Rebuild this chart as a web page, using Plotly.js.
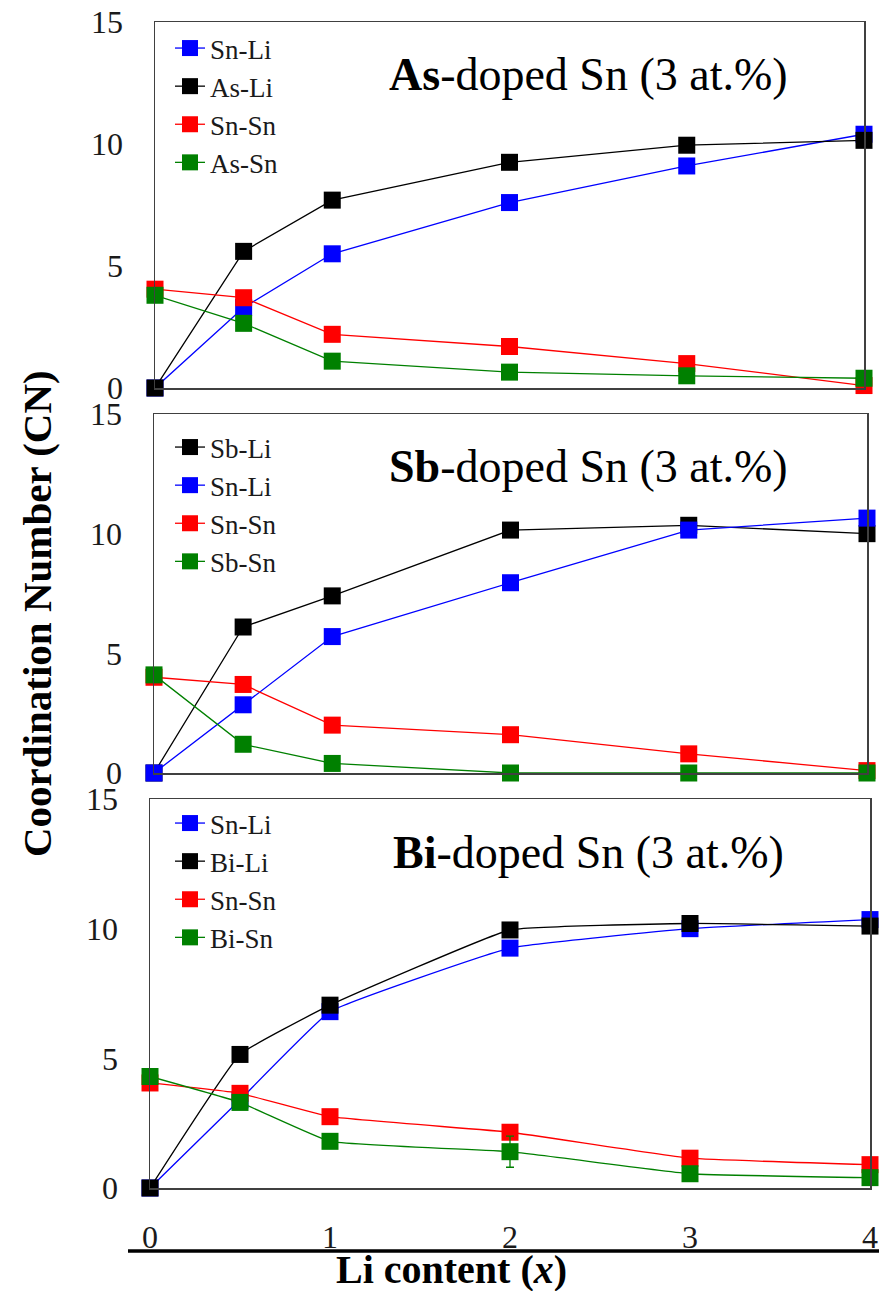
<!DOCTYPE html>
<html>
<head>
<meta charset="utf-8">
<script src="https://cdn.plot.ly/plotly-3.0.1.min.js"></script>
<style>html,body{margin:0;padding:0;background:#fff;}#chart{width:879px;height:1291px;}</style>
</head>
<body>
<div id="chart"></div>
<script>
// Li content x
const liContent = [0, 0.5, 1, 2, 3, 4];

// Panel 1: As-doped Sn
const asSnLi = [0, 3.3, 5.5, 7.6, 9.1, 10.4];
const asAsLi = [0, 5.6, 7.7, 9.25, 9.95, 10.15];
const asSnSn = [4.05, 3.7, 2.2, 1.7, 1.0, 0.1];
const asAsSn = [3.8, 2.65, 1.1, 0.65, 0.5, 0.4];

// Panel 2: Sb-doped Sn
const sbSbLi = [0, 6.1, 7.4, 10.15, 10.35, 10.0];
const sbSnLi = [0, 2.85, 5.7, 7.95, 10.15, 10.65];
const sbSnSn = [4.0, 3.7, 2.0, 1.6, 0.8, 0.1];
const sbSbSn = [4.1, 1.2, 0.4, 0.0, 0.0, 0.0];

// Panel 3: Bi-doped Sn
const biSnLi = [0, 3.4, 6.8, 9.25, 10.0, 10.35];
const biBiLi = [0, 5.15, 7.05, 9.95, 10.2, 10.1];
const biSnSn = [4.05, 3.65, 2.75, 2.15, 1.15, 0.9];
const biBiSn = [4.3, 3.3, 1.8, 1.4, 0.55, 0.4];
const biBiSnErr = [0, 0, 0, 0.6, 0, 0];

const yTicks = [0, 5, 10, 15];
const xTicks = [0, 1, 2, 3, 4];

const BLUE = '#0000ff', BLACK = '#000000', RED = '#ff0000', GREEN = '#008000';
const SERIF = '"Liberation Serif"';

function tr(name, y, color, xa, ya, leg, shape, err) {
  const t = {
    type: 'scatter', mode: 'lines+markers', name: name,
    x: liContent, y: y, xaxis: xa, yaxis: ya, legend: leg,
    cliponaxis: false,
    line: {color: color, width: 1.3, shape: shape || 'linear', smoothing: 0.3},
    marker: {symbol: 'square', size: 17, color: color}
  };
  if (err) t.error_y = {type: 'data', array: err, visible: true, color: color, thickness: 1.3, width: 4};
  return t;
}

const data = [
  tr('Sn-Li', asSnLi, BLUE, 'x', 'y', 'legend'),
  tr('As-Li', asAsLi, BLACK, 'x', 'y', 'legend'),
  tr('Sn-Sn', asSnSn, RED, 'x', 'y', 'legend'),
  tr('As-Sn', asAsSn, GREEN, 'x', 'y', 'legend'),
  tr('Sb-Li', sbSbLi, BLACK, 'x2', 'y2', 'legend2'),
  tr('Sn-Li', sbSnLi, BLUE, 'x2', 'y2', 'legend2'),
  tr('Sn-Sn', sbSnSn, RED, 'x2', 'y2', 'legend2'),
  tr('Sb-Sn', sbSbSn, GREEN, 'x2', 'y2', 'legend2'),
  tr('Sn-Li', biSnLi, BLUE, 'x3', 'y3', 'legend3', 'spline'),
  tr('Bi-Li', biBiLi, BLACK, 'x3', 'y3', 'legend3', 'spline'),
  tr('Sn-Sn', biSnSn, RED, 'x3', 'y3', 'legend3', 'spline'),
  tr('Bi-Sn', biBiSn, GREEN, 'x3', 'y3', 'legend3', 'spline', biBiSnErr)
];

function xax(dom, anchor, showLabels) {
  return {
    domain: dom, anchor: anchor, range: [0, 4], tickvals: xTicks,
    showticklabels: showLabels, ticks: '', showgrid: false, zeroline: false,
    showline: true, mirror: true, linecolor: '#404040', linewidth: 1.5,
    ticklabelstandoff: 20,
    tickfont: {family: SERIF, size: 32, color: '#1a1a1a'}
  };
}
function yax(dom, anchor) {
  return {
    domain: dom, anchor: anchor, range: [0, 15], tickvals: yTicks,
    ticks: '', showgrid: false, zeroline: false,
    showline: true, mirror: true, linecolor: '#404040', linewidth: 1.5,
    ticklabelstandoff: 24,
    tickfont: {family: SERIF, size: 32, color: '#1a1a1a'}
  };
}
function leg(ytop) {
  return {
    x: 170 / 879, xanchor: 'left', y: ytop, yanchor: 'top',
    bgcolor: 'rgba(0,0,0,0)', borderwidth: 0,
    font: {family: SERIF, size: 27, color: '#1a1a1a'},
    itemwidth: 30
  };
}

const layout = {
  width: 879, height: 1291,
  margin: {l: 0, r: 0, t: 0, b: 0},
  paper_bgcolor: '#ffffff', plot_bgcolor: '#ffffff',
  showlegend: true,
  xaxis: xax([155/879, 864/879], 'y', false),
  yaxis: yax([(1291-388)/1291, (1291-22)/1291], 'x'),
  xaxis2: xax([154/879, 867/879], 'y2', false),
  yaxis2: yax([(1291-773)/1291, (1291-414)/1291], 'x2'),
  xaxis3: xax([150/879, 870/879], 'y3', true),
  yaxis3: yax([(1291-1188)/1291, (1291-799)/1291], 'x3'),
  legend: leg((1291-24)/1291),
  legend2: leg((1291-423)/1291),
  legend3: leg((1291-799)/1291),
  annotations: [
    {xref: 'paper', yref: 'paper', x: 588/879, y: (1291-74)/1291, xanchor: 'center', yanchor: 'middle', showarrow: false,
     text: '<b>As</b>-doped Sn (3 at.%)', font: {family: SERIF, size: 46, color: '#000'}},
    {xref: 'paper', yref: 'paper', x: 588/879, y: (1291-466)/1291, xanchor: 'center', yanchor: 'middle', showarrow: false,
     text: '<b>Sb</b>-doped Sn (3 at.%)', font: {family: SERIF, size: 46, color: '#000'}},
    {xref: 'paper', yref: 'paper', x: 588/879, y: (1291-853)/1291, xanchor: 'center', yanchor: 'middle', showarrow: false,
     text: '<b>Bi</b>-doped Sn (3 at.%)', font: {family: SERIF, size: 46, color: '#000'}},
    {xref: 'paper', yref: 'paper', x: 37/879, y: (1291-614)/1291, xanchor: 'center', yanchor: 'middle', showarrow: false,
     textangle: -90, text: '<b>Coordination Number (CN)</b>', font: {family: SERIF, size: 41, color: '#000'}},
    {xref: 'paper', yref: 'paper', x: 452/879, y: (1291-1269)/1291, xanchor: 'center', yanchor: 'middle', showarrow: false,
     text: '<b>Li content (<i>x</i>)</b>', font: {family: SERIF, size: 40, color: '#000'}}
  ],
  shapes: [
    {type: 'line', xref: 'paper', yref: 'paper', x0: 128/879, x1: 1, y0: (1291-1251)/1291, y1: (1291-1251)/1291,
     line: {color: '#000', width: 3.5}}
  ]
};

Plotly.newPlot('chart', data, layout, {displayModeBar: false, staticPlot: true});
</script>
</body>
</html>
